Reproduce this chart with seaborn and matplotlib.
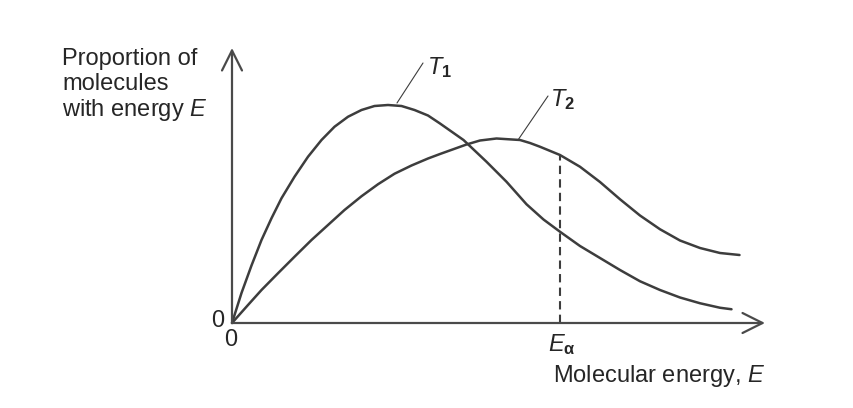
import numpy as np
import matplotlib
matplotlib.use("Agg")
import matplotlib.pyplot as plt
import seaborn as sns

# Curve readings (energy, proportion) in arbitrary units
t1_energy = [0, 0.19, 0.39, 0.59, 0.79, 0.99, 1.25, 1.52, 1.79, 2.05, 2.32, 2.59,
             2.85, 3.12, 3.39, 3.65, 3.92, 4.16, 4.63, 5.09, 5.49, 5.89, 6.23,
             6.56, 6.96, 7.36, 7.76, 8.16, 8.56, 8.96, 9.36, 9.76, 9.99]
t1_prop = [0, 1.2, 2.3, 3.32, 4.19, 4.99, 5.85, 6.65, 7.32, 7.85, 8.25, 8.52,
           8.68, 8.72, 8.68, 8.52, 8.3, 7.98, 7.32, 6.45, 5.65, 4.75, 4.14,
           3.65, 3.08, 2.6, 2.12, 1.67, 1.32, 1.02, 0.79, 0.61, 0.55]

t2_energy = [0, 0.32, 0.59, 0.92, 1.25, 1.59, 1.92, 2.25, 2.59, 2.92, 3.25, 3.59,
             3.92, 4.16, 4.69, 4.96, 5.29, 5.76, 5.96, 6.16, 6.56, 6.96, 7.36,
             7.76, 8.16, 8.56, 8.96, 9.36, 9.76, 10.15]
t2_prop = [0, 0.72, 1.32, 1.99, 2.65, 3.32, 3.92, 4.52, 5.07, 5.55, 5.97, 6.3,
           6.58, 6.76, 7.14, 7.3, 7.38, 7.32, 7.2, 7.05, 6.72, 6.25, 5.64,
           4.95, 4.3, 3.75, 3.3, 3.0, 2.8, 2.72]

e_alpha = 6.56
e_alpha_t2 = 6.72

y_label = "Proportion of\nmolecules\nwith energy $\\mathit{E}$"
x_label = "Molecular energy, $\\mathit{E}$"

sns.set_theme(style="white")
plt.rcParams["font.family"] = ["Liberation Sans", "DejaVu Sans"]
plt.rcParams["mathtext.fontset"] = "custom"
plt.rcParams["mathtext.rm"] = "Liberation Sans"
plt.rcParams["mathtext.it"] = "Liberation Sans:italic"
plt.rcParams["mathtext.bf"] = "Liberation Sans:bold"

fig = plt.figure(figsize=(8.54, 4.08), dpi=100)
ax = fig.add_axes([0, 0, 1, 1])
ax.set_xlim(-4.64, 12.44)
ax.set_ylim(-3.4, 12.92)
ax.axis("off")

line_col = "#3d3d3d"
axis_col = "#4a4a4a"

sns.lineplot(x=t1_energy, y=t1_prop, color=line_col, lw=1.8, ax=ax)
sns.lineplot(x=t2_energy, y=t2_prop, color=line_col, lw=1.8, ax=ax)

# axes arrows
arrow = dict(arrowstyle="->,head_length=0.72,head_width=0.36", lw=1.6,
             color=axis_col, mutation_scale=20, shrinkA=0, shrinkB=0)
ax.annotate("", xy=(10.66, 0), xytext=(0, 0), arrowprops=arrow)
ax.annotate("", xy=(0, 11.0), xytext=(0, 0), arrowprops=arrow)

# activation energy marker
ax.plot([e_alpha, e_alpha], [0, e_alpha_t2], color=line_col, lw=1.5,
        linestyle=(0, (4, 2.5)))

# curve labels with leader lines
ax.plot([3.3, 3.82], [8.8, 10.4], color=line_col, lw=0.8)
ax.plot([5.72, 6.32], [7.32, 9.08], color=line_col, lw=0.8)
ax.text(3.9, 10.72, "$\\mathit{T}_{\\mathbf{1}}$", fontsize=17, ha="left", va="top")
ax.text(6.36, 9.44, "$\\mathit{T}_{\\mathbf{2}}$", fontsize=17, ha="left", va="top")

# text
ax.text(-3.4, 11.0, y_label, fontsize=17, ha="left", va="top", linespacing=1.15)
ax.text(10.66, -1.6, x_label, fontsize=17, ha="right", va="top")
ax.text(-0.28, 0.08, "0", fontsize=17, ha="center", va="center")
ax.text(-0.03, -0.66, "0", fontsize=17, ha="center", va="center")
ax.text(6.32, -0.36, "$\\mathit{E}_{\\mathbf{\\alpha}}$", fontsize=17, ha="left", va="top")

fig.savefig("out.png", dpi=100)
